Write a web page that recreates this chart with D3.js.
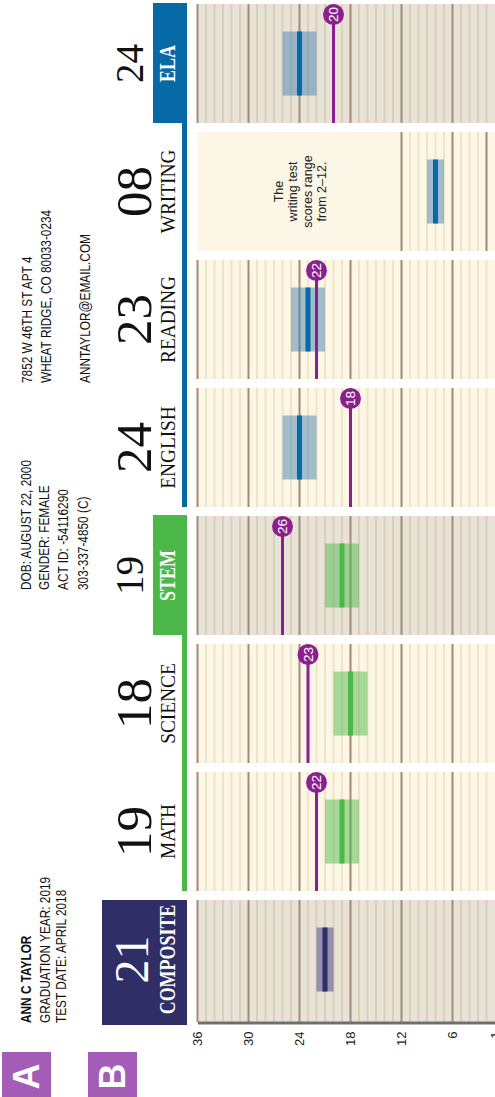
<!DOCTYPE html>
<html>
<head>
<meta charset="utf-8">
<script src="https://cdn.jsdelivr.net/npm/d3@7"></script>
<style>
  body { margin: 0; background: #fff; }
  svg { display: block; }
</style>
</head>
<body>
<div id="chart"></div>
<script>
// score report data
let subjects   = ["COMPOSITE", "MATH", "SCIENCE", "STEM", "ENGLISH", "READING", "WRITING", "ELA"];
let scoreText  = ["21", "19", "18", "19", "24", "23", "08", "24"];
let scores     = [21, 19, 18, 19, 24, 23, 8, 24];
let rangeLow   = [20, 17, 16, 17, 22, 21, 7, 22];
let rangeHigh  = [22, 21, 20, 21, 26, 25, 9, 26];
let benchmarks = [null, 22, 23, 26, 18, 22, null, 20];
let groups     = ["composite", "stem", "stem", "stem", "ela", "ela", "ela", "ela"];
let summaryRow = ["COMPOSITE", "STEM", "ELA"];
let tickValues = [36, 30, 24, 18, 12, 6, 1];
let writingRange = [12, 2];

let studentLines = ["ANN C TAYLOR", "GRADUATION YEAR: 2019", "TEST DATE: APRIL 2018"];
let idLines      = ["DOB: AUGUST 22, 2000", "GENDER: FEMALE", "ACT ID: -54116290", "303-337-4850 (C)"];
let addressLines = ["7852 W 46TH ST APT 4", "WHEAT RIDGE, CO 80033-0234", "", "ANNTAYLOR@EMAIL.COM"];
let writingNote  = ["The", "writing test", "scores range", "from 2\u201312."];
let markers      = ["A", "B"];

let colors = {
  composite: { dark: "#2f2e67", box: "#3a3880" },
  stem:      { dark: "#4cb849", box: "#4cb849" },
  ela:       { dark: "#0769a5", box: "#3f7fb0" }
};

// the report is laid out landscape, then turned a quarter to the left
let W = 1097, H = 495;
let serif = "'Liberation Serif', 'Times New Roman', serif";
let sans = "'Liberation Sans', Arial, sans-serif";

let svg = d3.select("#chart").append("svg")
  .attr("width", H)
  .attr("height", W);

let g = svg.append("g")
  .attr("transform", "translate(0," + W + ") rotate(-90)");

let x = d3.scaleBand()
  .domain(subjects)
  .range([78, 1093])
  .paddingInner(9 / 128);

let y = d3.scaleLinear()
  .domain([36, 1])
  .range([197.5, 495]);

let bw = x.bandwidth();

function squeeze(sel, f) {
  sel.each(function () {
    let L = this.getComputedTextLength();
    d3.select(this).attr("textLength", L * f).attr("lengthAdjust", "spacingAndGlyphs");
  });
}

let rows = subjects.map((s, i) => ({
  name: s,
  label: scoreText[i],
  score: scores[i],
  lo: rangeLow[i],
  hi: rangeHigh[i],
  bench: benchmarks[i],
  group: groups[i],
  summary: summaryRow.includes(s)
}));

// panels
let panel = g.selectAll("g.panel")
  .data(rows).enter()
  .append("g")
  .attr("class", "panel");

panel.append("rect")
  .attr("x", d => d.name === "COMPOSITE" ? x(d.name) - 3 : x(d.name))
  .attr("y", y(36))
  .attr("width", d => d.name === "COMPOSITE" ? bw + 3 : bw)
  .attr("height", y(1) - y(36))
  .attr("fill", d => d.summary ? "#e8e3d8" : "#fbf6e5");

// grid lines, one per score point
panel.each(function (d) {
  let p = d3.select(this);
  let pts = d.name === "WRITING" ? d3.range(writingRange[0], writingRange[1] - 1, -1) : d3.range(36, 1, -1);
  let isMajor = v => v % 6 === 0 || (d.name === "WRITING" && v === writingRange[1]);
  let x0 = d.name === "COMPOSITE" ? x(d.name) - 3 : x(d.name);
  p.selectAll("line.minor")
    .data(pts.filter(v => !isMajor(v))).enter()
    .append("line")
    .attr("x1", x0).attr("x2", x(d.name) + bw)
    .attr("y1", v => y(v)).attr("y2", v => y(v))
    .attr("stroke", d.summary ? "#dccfb4" : "#efe4c5")
    .attr("stroke-width", 2);
  p.selectAll("line.major")
    .data(pts.filter(isMajor)).enter()
    .append("line")
    .attr("x1", x0).attr("x2", x(d.name) + bw)
    .attr("y1", v => y(v)).attr("y2", v => y(v))
    .attr("stroke", "#a38b74")
    .attr("stroke-width", 2);
});

// score range box and score bar
panel.append("rect")
  .attr("x", d => x(d.name) + bw / 2 - 32)
  .attr("width", 64)
  .attr("y", d => y(d.hi))
  .attr("height", d => y(d.lo) - y(d.hi))
  .attr("fill", d => colors[d.group].box)
  .attr("fill-opacity", 0.48);

panel.append("rect")
  .attr("x", d => x(d.name) + bw / 2 - 32)
  .attr("width", 64)
  .attr("y", d => y(d.score) - 2.5)
  .attr("height", 5)
  .attr("fill", d => colors[d.group].dark);

// college readiness benchmarks
let bench = panel.filter(d => d.bench !== null);

bench.append("line")
  .attr("x1", d => x(d.name))
  .attr("x2", d => x(d.name) + bw - 10)
  .attr("y1", d => y(d.bench))
  .attr("y2", d => y(d.bench))
  .attr("stroke", "#8b1f8e")
  .attr("stroke-width", 3);

bench.append("circle")
  .attr("cx", d => x(d.name) + bw - 10.5)
  .attr("cy", d => y(d.bench))
  .attr("r", 10.5)
  .attr("fill", "#8b1f8e");

bench.append("text")
  .attr("x", d => x(d.name) + bw - 10.5)
  .attr("y", d => y(d.bench))
  .attr("dy", "0.36em")
  .attr("text-anchor", "middle")
  .attr("font-family", sans)
  .attr("font-size", 13.5)
  .attr("fill", "#fff")
  .text(d => d.bench);

// writing note
let wn = rows.find(d => d.name === "WRITING");
g.append("text")
  .attr("text-anchor", "middle")
  .attr("font-family", sans)
  .attr("font-size", 12.5)
  .attr("fill", "#222")
  .selectAll("tspan")
  .data(writingNote).enter()
  .append("tspan")
  .attr("x", x(wn.name) + bw / 2)
  .attr("y", (t, i) => 282.5 + i * 14.5)
  .text(t => t);

// axis
let axis = g.append("g")
  .attr("transform", "translate(73.5,0)")
  .call(d3.axisLeft(y).tickValues(tickValues).tickSize(0).tickPadding(8));
axis.select(".domain").attr("stroke", "#6e6e70").attr("stroke-width", 3);
axis.selectAll("text").attr("font-family", sans).attr("font-size", 13).attr("fill", "#222");

// header: summary boxes and group bars
g.append("rect")
  .attr("x", x("COMPOSITE") - 6).attr("width", bw + 6)
  .attr("y", 102).attr("height", 85)
  .attr("fill", colors.composite.dark);

["stem", "ela"].forEach(grp => {
  let members = rows.filter(d => d.group === grp);
  let first = members[0].name, last = members[members.length - 1].name;
  g.append("rect")
    .attr("x", x(first)).attr("width", x(last) + bw - x(first) + 1)
    .attr("y", 182).attr("height", 5)
    .attr("fill", colors[grp].dark);
  g.append("rect")
    .attr("x", x(last)).attr("width", bw + 1)
    .attr("y", 153).attr("height", 34)
    .attr("fill", colors[grp].dark);
});

// header numbers
g.selectAll("text.num")
  .data(rows).enter()
  .append("text")
  .attr("class", "num")
  .attr("x", d => x(d.name) + bw / 2)
  .attr("y", d => d.name === "COMPOSITE" ? 148 : (d.summary ? 143 : 151))
  .attr("text-anchor", "middle")
  .attr("font-family", serif)
  .attr("font-size", d => d.name === "COMPOSITE" ? 48 : (d.summary ? 39 : 51))
  .attr("fill", d => d.name === "COMPOSITE" ? "#fff" : "#111")
  .text(d => d.label);

// header names
g.selectAll("text.name")
  .data(rows).enter()
  .append("text")
  .attr("class", "name")
  .attr("x", d => x(d.name) + bw / 2)
  .attr("y", 175)
  .attr("text-anchor", "middle")
  .attr("font-family", serif)
  .attr("font-weight", d => d.summary ? "bold" : "normal")
  .attr("font-size", d => d.summary ? 23 : 21)
  .attr("fill", d => d.summary ? "#fff" : "#111")
  .text(d => d.name)
  .each(function (d) { squeeze(d3.select(this), d.summary ? 0.78 : 0.92); });

// student information
function infoBlock(lines, x0, baselines, boldFirst) {
  g.selectAll(null)
    .data(lines.map((t, i) => ({ t: t, i: i })).filter(d => d.t !== "")).enter()
    .append("text")
    .attr("x", x0)
    .attr("y", d => baselines[d.i])
    .attr("font-family", sans)
    .attr("font-size", 14)
    .attr("font-weight", d => boldFirst && d.i === 0 ? "bold" : "normal")
    .attr("fill", "#111")
    .text(d => d.t)
    .call(squeeze, 0.845);
}
infoBlock(studentLines, 74, [30.5, 50, 65.5], true);
infoBlock(idLines, 507, [30.5, 48.5, 68, 88], false);
infoBlock(addressLines, 714, [31.5, 50.5, 70, 89.5], false);

// annotation markers
let mk = g.selectAll("g.marker")
  .data(markers).enter()
  .append("g")
  .attr("class", "marker");
mk.append("rect")
  .attr("x", -4).attr("width", 49)
  .attr("y", (d, i) => 2 + i * 86).attr("height", 49)
  .attr("fill", "#a35db7");
mk.append("text")
  .attr("x", 20.5)
  .attr("y", (d, i) => 26.5 + i * 86)
  .attr("dy", "0.36em")
  .attr("text-anchor", "middle")
  .attr("font-family", sans)
  .attr("font-weight", "bold")
  .attr("font-size", 36)
  .attr("fill", "#fff")
  .text(d => d);
</script>
</body>
</html>
